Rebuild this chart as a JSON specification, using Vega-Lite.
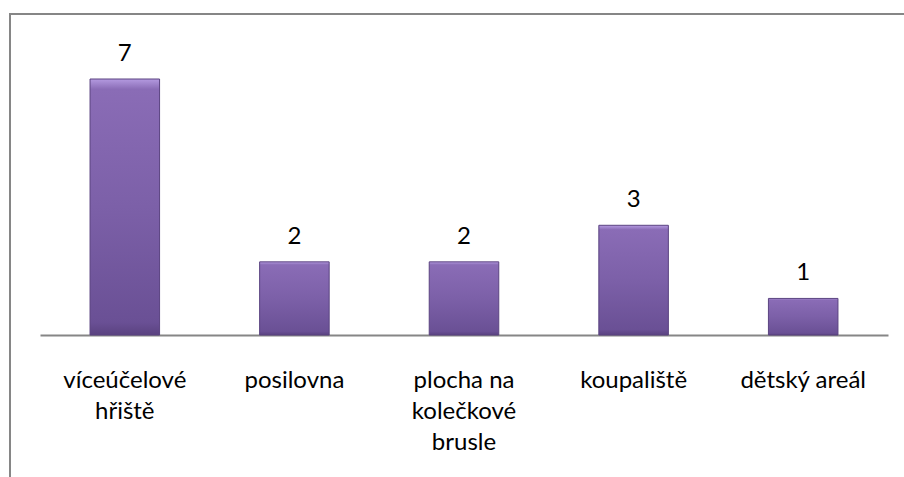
{
  "$schema": "https://vega.github.io/schema/vega-lite/v6.json",
  "width": 900,
  "height": 470,
  "autosize": {"type": "none"},
  "padding": {"left": 10, "top": 14, "right": 0, "bottom": 0},
  "background": "white",
  "view": {"stroke": "#868686", "strokeWidth": 2, "fill": "white"},
  "data": {
    "values": [
      {"kategorie": "víceúčelové hřiště", "pocet": 7},
      {"kategorie": "posilovna", "pocet": 2},
      {"kategorie": "plocha na kolečkové brusle", "pocet": 2},
      {"kategorie": "koupaliště", "pocet": 3},
      {"kategorie": "dětský areál", "pocet": 1}
    ]
  },
  "encoding": {
    "x": {
      "field": "kategorie",
      "type": "nominal",
      "sort": null,
      "scale": {"range": [30, 878], "paddingInner": 0.59, "paddingOuter": 0.295},
      "axis": {
        "title": null,
        "orient": "bottom",
        "offset": -149,
        "ticks": false,
        "domainColor": "#868686",
        "domainWidth": 2,
        "labelAngle": 0,
        "labelFont": "Lato",
        "labelFontSize": 24,
        "labelColor": "#000000",
        "labelBaseline": "alphabetic",
        "labelPadding": 52,
        "labelLineHeight": 31,
        "labelLimit": 0,
        "labelExpr": "datum.label == 'víceúčelové hřiště' ? ['víceúčelové', 'hřiště'] : datum.label == 'plocha na kolečkové brusle' ? ['plocha na', 'kolečkové', 'brusle'] : datum.label"
      }
    },
    "y": {
      "field": "pocet",
      "type": "quantitative",
      "scale": {"domain": [0, 7], "range": [321, 65], "nice": false, "zero": true},
      "axis": null
    }
  },
  "layer": [
    {
      "mark": {
        "type": "bar",
        "stroke": "#5a4380",
        "strokeWidth": 1,
        "color": {
          "gradient": "linear",
          "x1": 0, "y1": 0, "x2": 0, "y2": 1,
          "stops": [
            {"offset": 0, "color": "#b49ae0"},
            {"offset": 0.04, "color": "#8a6cb6"},
            {"offset": 0.5, "color": "#7c60a8"},
            {"offset": 0.95, "color": "#6a5095"},
            {"offset": 1, "color": "#5a4280"}
          ]
        }
      }
    },
    {
      "mark": {
        "type": "text",
        "baseline": "alphabetic",
        "dy": -18,
        "font": "Lato",
        "fontSize": 24,
        "color": "#000000"
      },
      "encoding": {"text": {"field": "pocet", "type": "quantitative"}}
    }
  ]
}
